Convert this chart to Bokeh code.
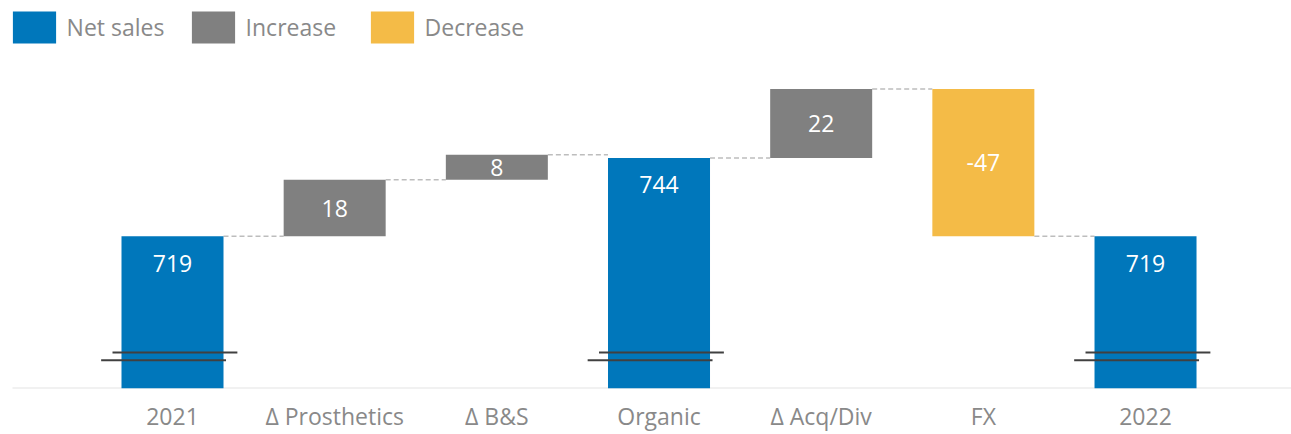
from bokeh.plotting import figure
from bokeh.models import Range1d, FixedTicker, Legend, LegendItem, ColumnDataSource
from bokeh.core.properties import value
from bokeh.embed import file_html
from bokeh.resources import INLINE

# ---- data ----
categories = ["2021", "Δ Prosthetics", "Δ B&S", "Organic", "Δ Acq/Div", "FX", "2022"]
values = [719, 18, 8, 744, 22, -47, 719]
kinds = ["total", "delta", "delta", "total", "delta", "delta", "total"]
labels = ["719", "18", "8", "744", "22", "-47", "719"]
legend_names = ["Net sales", "Increase", "Decrease"]

# ---- style / layout ----
BLUE = "#0077BB"
GRAY = "#808080"
YELLOW = "#F4BB47"
TEXT_GRAY = "#898989"
FONT = "Open Sans"
W, H = 1291, 434
FRAME_H = 387
PX_PER_UNIT = 3.125
PX_PER_CAT = 162.17
FIRST_CENTER_PX = 172
Y_MIN = 670.4
BAR_W = 0.629

xs = list(range(len(categories)))

bottoms, tops, ends, groups = [], [], [], []
level = None
for v, k in zip(values, kinds):
    if k == "total":
        b, t = Y_MIN, v
        level = v
        groups.append(0)
    else:
        start = level
        level = level + v
        b, t = min(start, level), max(start, level)
        groups.append(1 if v >= 0 else 2)
    bottoms.append(b)
    tops.append(t)
    ends.append(level)

x_start = -FIRST_CENTER_PX / PX_PER_CAT
x_end = (W - FIRST_CENTER_PX) / PX_PER_CAT
y_end = Y_MIN + FRAME_H / PX_PER_UNIT

p = figure(width=W, height=H, output_backend="svg", toolbar_location=None,
           x_range=Range1d(x_start, x_end), y_range=Range1d(Y_MIN, y_end),
           y_axis_location=None, min_border=0, min_border_left=0,
           min_border_right=0, min_border_top=0, min_border_bottom=0)
p.outline_line_color = None
p.grid.visible = False
p.background_fill_color = "white"

# baseline
p.segment(x0=[(12 - FIRST_CENTER_PX) / PX_PER_CAT], y0=[Y_MIN], x1=[x_end], y1=[Y_MIN],
          line_color="#e4e4e4", line_width=2)

# connectors
cx0 = [x + BAR_W / 2 for x in xs[:-1]]
cx1 = [x + 1 - BAR_W / 2 for x in xs[:-1]]
cy = ends[:-1]
p.segment(x0=cx0, y0=cy, x1=cx1, y1=cy, line_color="#bdbdbd", line_width=1.5, line_dash="5 3")

renderers = []
for g, col in enumerate([BLUE, GRAY, YELLOW]):
    idx = [i for i in xs if groups[i] == g]
    src = ColumnDataSource(dict(x=[xs[i] for i in idx], top=[tops[i] for i in idx],
                                bottom=[bottoms[i] for i in idx]))
    r = p.vbar(x="x", top="top", bottom="bottom", width=BAR_W, source=src,
               fill_color=col, line_color=None)
    renderers.append(r)

# break marks on total bars
tot = [i for i in xs if kinds[i] == "total"]
p.segment(x0=[xs[i] - 0.37 for i in tot], y0=[Y_MIN + 11.5] * len(tot),
          x1=[xs[i] + 0.40 for i in tot], y1=[Y_MIN + 11.5] * len(tot),
          line_color="#404040", line_width=2)
p.segment(x0=[xs[i] - 0.44 for i in tot], y0=[Y_MIN + 9.0] * len(tot),
          x1=[xs[i] + 0.33 for i in tot], y1=[Y_MIN + 9.0] * len(tot),
          line_color="#404040", line_width=2)

# value labels
ly = []
for i in xs:
    if kinds[i] == "total":
        ly.append(tops[i] - 27 / PX_PER_UNIT)
    else:
        ly.append((tops[i] + bottoms[i]) / 2)
p.text(x=xs, y=ly, text=labels, text_color="white", text_font=value(FONT),
       text_font_size="23px", text_align="center", text_baseline="middle")

# x axis
ax = p.xaxis[0]
ax.ticker = FixedTicker(ticks=xs)
ax.major_label_overrides = {i: c for i, c in zip(xs, categories)}
ax.axis_line_color = None
ax.major_tick_line_color = None
ax.minor_tick_line_color = None
ax.major_tick_out = 0
ax.major_tick_in = 0
ax.major_label_standoff = 11
ax.major_label_text_font = FONT
ax.major_label_text_font_size = "23px"
ax.major_label_text_color = TEXT_GRAY

legend = Legend(items=[LegendItem(label=n, renderers=[r]) for n, r in zip(legend_names, renderers)],
                orientation="horizontal", location=(6.6, FRAME_H - 6 - 40),
                glyph_width=54, glyph_height=40, label_standoff=6, label_width=111,
                spacing=8, padding=0, margin=0, border_line_color=None,
                background_fill_alpha=0, label_text_font=FONT,
                label_text_font_size="23px", label_text_color=TEXT_GRAY)
p.add_layout(legend)

open("out.html", "w").write(file_html(p, INLINE))
